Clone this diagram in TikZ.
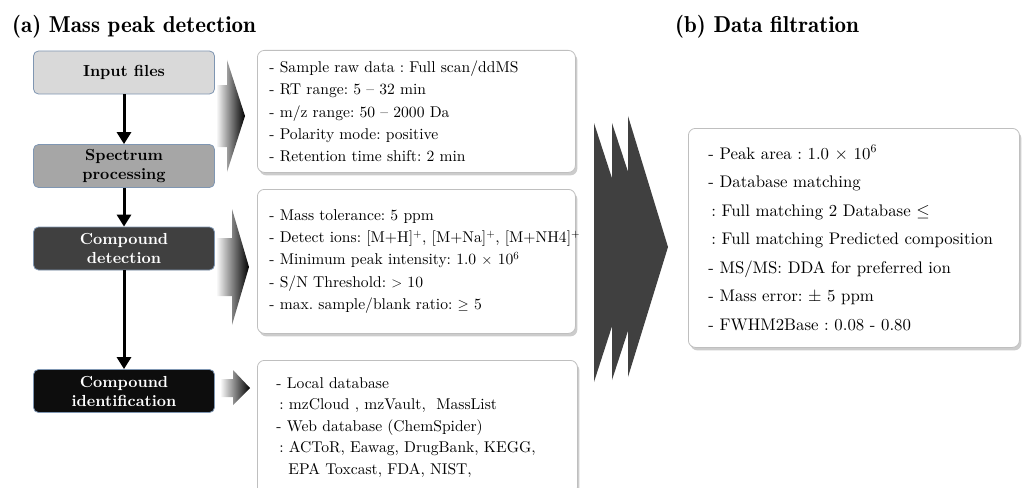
\documentclass[tikz,border=0pt]{standalone}
\usepackage{fontspec}
\setmainfont{lmroman10-regular}[Extension=.otf, BoldFont=lmroman10-bold]
\newfontfamily\demifont{lmromandemi10-regular}[Extension=.otf]
\usetikzlibrary{positioning, arrows.meta, shadows}
\definecolor{stepA}{HTML}{D9D9D9}
\definecolor{stepB}{HTML}{A6A6A6}
\definecolor{stepC}{HTML}{404040}
\definecolor{stepD}{HTML}{0D0D0D}
\definecolor{edge}{HTML}{7F96B2}
\definecolor{frame}{HTML}{BFBFBF}
\definecolor{chev}{HTML}{404040}
\frenchspacing

\begin{document}
\begin{tikzpicture}[x=1pt, y=-1pt,
  stepbx/.style={rounded corners=5pt, draw=edge, line width=0.8pt,
                 minimum width=181pt, minimum height=43pt, align=center,
                 font=\fontsize{16}{19}\selectfont\bfseries},
  infobx/.style={rounded corners=7pt, draw=frame, fill=white, line width=0.8pt,
                 align=left, anchor=north west, inner sep=0pt,
                 font=\fontsize{15.6}{22.2}\selectfont,
                 drop shadow={shadow xshift=2pt, shadow yshift=-3pt, fill=black!40}},
  ttl/.style={anchor=base west, inner sep=0pt,
              font=\fontsize{23}{26}\selectfont\demifont},
  varr/.style={-{Triangle[length=12pt, width=14pt]}, line width=3pt},
  fade/.style={left color=white, right color=black},
]
\clip (0,0) rectangle (1022,487);

% Titles
\node[ttl] (ta) at (12,33) {(a) Mass peak detection};
\node[ttl] (tb) at (675,33) {(b) Data filtration};

% Column 1: processing steps
\node[stepbx, fill=stepA] (inp) at (124,72.5) {Input files};
\node[stepbx, fill=stepB] (spec) at (124,166) {Spectrum\\processing};
\node[stepbx, fill=stepC, text=white] (cdet) at (124,248.5) {Compound\\detection};
\node[stepbx, fill=stepD, text=white] (cid) at (124,391) {Compound\\identification};

\draw[varr] (inp) -- (spec);
\draw[varr] (spec) -- (cdet);
\draw[varr] (cdet) -- (cid);

% Column 2: parameters
\node[infobx, minimum width=318pt, minimum height=122pt, text width=294pt] (par1) at (257,50)
  {- Sample raw data : Full scan/ddMS\\
   - RT range: 5 -- 32 min\\
   - m/z range: 50 -- 2000 Da\\
   - Polarity mode: positive\\
   - Retention time shift: 2 min};
\node[infobx, minimum width=318pt, minimum height=144pt, text width=294pt] (par2) at (257,189)
  {- Mass tolerance: 5 ppm\\
   \mbox{- Detect ions: [M+H]\textsuperscript{+}, [M+Na]\textsuperscript{+}, [M+NH4]\textsuperscript{+}}\\
   - Minimum peak intensity: 1.0 $\times$ 10\textsuperscript{6}\\
   - S/N Threshold: $>$ 10\\
   - max. sample/blank ratio: $\geq$ 5};
\node[infobx, minimum width=320pt, minimum height=134pt, text width=282pt,
      font=\fontsize{15.6}{21.5}\selectfont] (par3) at (257,360)
  {- Local database\\
   \hspace*{3pt}: mzCloud , mzVault,\ \ MassList\\
   - Web database (ChemSpider)\\
   \hspace*{3pt}: ACToR, Eawag, DrugBank, KEGG,\\
   \hspace*{12pt}EPA Toxcast, FDA, NIST,};

% Gradient arrows
\shade[fade] (216,85) -- (227,85) -- (227,60) -- (245,116) -- (227,172) -- (227,147) -- (216,147) -- cycle;
\shade[fade] (216,238) -- (232,238) -- (232,209) -- (249,267) -- (232,325) -- (232,296) -- (216,296) -- cycle;
\shade[fade] (220,379) -- (233,379) -- (233,370) -- (250,388) -- (233,405) -- (233,397) -- (220,397) -- cycle;

% Big chevrons
\fill[chev] (594,123) -- (636,252) -- (594,382) -- cycle;
\fill[chev] (612,123) -- (654,251) -- (612,380) -- cycle;
\fill[chev] (628,116) -- (668,247) -- (628,377) -- cycle;

% Column 3: filtration
\node[infobx, minimum width=331pt, minimum height=219pt, text width=291pt,
      font=\fontsize{16.8}{28.5}\selectfont] (filt) at (688,128)
  {- Peak area : 1.0 $\times$ 10\textsuperscript{6}\\
   - Database matching\\
   \hspace*{3pt}: Full matching 2 Database $\leq$\\
   \hspace*{3pt}: Full matching Predicted composition\\
   - MS/MS: DDA for preferred ion\\
   - Mass error: $\pm$ 5 ppm\\
   - FWHM2Base : 0.08 - 0.80};

\end{tikzpicture}
\end{document}
